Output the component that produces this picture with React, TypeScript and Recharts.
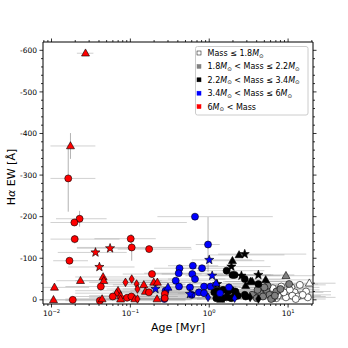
import React from 'react';
import { ScatterChart, Scatter, XAxis, YAxis, ErrorBar, Legend } from 'recharts';

// [age Myr, Hα EW, age low, age high, EW error, marker]
type Pt = [number, number, number, number, number, string];

const massLow: Pt[] = [
  [14.1, -36, 7.0, 30, 3, 'o'],
  [18.6, -40, 9.0, 40, 3, '^'],
  [11.0, -30, 5.5, 25, 3, 'o'],
  [12.1, -18, 6.0, 28, 2, 'o'],
  [16.9, -20, 8.0, 35, 2, 'o'],
  [7.8, -16, 3.5, 20, 2, 'o'],
  [9.4, -6, 4.5, 22, 2, 'o'],
  [13.3, -8, 6.5, 30, 2, 'o'],
  [17.8, -6, 9.0, 40, 2, 'o'],
  [7.1, -4, 3.2, 18, 2, 'o'],
  [8.2, -32, 4.0, 20, 2, 'o'],
  [6.4, -28, 3.0, 16, 2, 'o'],
  [10.5, -24, 5.0, 25, 2, 'o'],
  [11.3, -10, 5.5, 26, 2, 'o'],
  [12.5, -2, 6.0, 30, 2, 'o'],
  [15.3, -12, 7.5, 35, 2, 'o'],
  [8.8, -18, 4.2, 20, 2, 'o'],
  [7.4, -10, 3.5, 18, 2, 'o'],
];

const massMidLow: Pt[] = [
  [9.4, -58, 4.0, 22, 3, '^'],
  [10.3, -38, 5.0, 24, 3, 'o'],
  [5.3, -24, 2.5, 14, 2, 'o'],
  [4.4, -16, 2.0, 12, 2, 'o'],
  [3.5, -12, 1.6, 9, 2, 'o'],
  [5.8, -12, 2.8, 15, 2, 'o'],
  [4.8, -8, 2.2, 13, 2, 'o'],
  [4.0, -4, 1.8, 10, 2, 'o'],
  [6.4, -4, 3.0, 16, 2, 'o'],
  [7.1, -20, 3.3, 18, 2, 'o'],
  [5.5, -34, 2.6, 14, 2, 'o'],
  [5.0, -30, 2.4, 13, 2, 'o'],
  [6.1, -2, 2.9, 15, 2, 'o'],
  [4.1, -24, 1.9, 11, 2, 'o'],
  [6.8, -10, 3.2, 17, 2, 'o'],
  [8.0, -26, 3.8, 20, 2, 'o'],
];

const massMid: Pt[] = [
  [2.39, -108, 1.0, 9.0, 4, '^'],
  [2.82, -110, 1.3, 17, 4, '*'],
  [1.97, -94, 0.9, 5.0, 4, '^'],
  [1.91, -80, 0.8, 6.0, 4, '*'],
  [1.66, -70, 0.7, 5.0, 3, 'o'],
  [1.97, -60, 0.9, 6.0, 3, 'o'],
  [2.1, -60, 1.0, 6.5, 3, 'o'],
  [2.56, -58, 1.2, 8.0, 3, '*'],
  [4.2, -60, 2.0, 12, 3, '*'],
  [2.82, -50, 1.3, 9.0, 3, 'o'],
  [3.33, -44, 1.5, 10, 3, '^'],
  [3.5, -44, 1.6, 11, 3, '^'],
  [5.2, -48, 2.5, 20, 3, '^'],
  [4.2, -38, 2.0, 14, 3, 'o'],
  [2.9, -34, 1.3, 10, 3, '^'],
  [1.26, -38, 0.6, 4.0, 3, '*'],
  [1.26, -22, 0.6, 4.0, 2, 'o'],
  [1.5, -24, 0.7, 5.0, 2, 'o'],
  [1.72, -20, 0.8, 5.5, 2, 'o'],
  [1.9, -24, 0.9, 6.0, 2, 'o'],
  [2.15, -20, 1.0, 7.0, 2, 'o'],
  [2.3, -10, 1.1, 7.0, 2, 'o'],
  [2.82, -12, 1.3, 9.0, 2, 'o'],
  [1.35, -12, 0.6, 4.5, 2, 'o'],
  [1.23, -4, 0.6, 4.0, 2, 'o'],
  [1.47, -4, 0.7, 5.0, 2, 'o'],
  [1.66, -6, 0.8, 5.5, 2, 'o'],
  [1.9, -4, 0.9, 6.0, 2, 'o'],
  [2.1, -8, 1.0, 7.0, 2, 'o'],
  [2.9, -8, 1.4, 10, 2, 'o'],
  [3.3, -6, 1.5, 11, 2, 'd'],
  [1.4, -1, 0.7, 4.5, 2, '^'],
  [4.2, -2, 2.0, 14, 2, 'd'],
  [1.16, -18, 0.5, 3.5, 2, 'o'],
];

const massHigh: Pt[] = [
  [0.66, -200, 0.22, 6.4, 8, 'o'],
  [0.966, -133, 0.675, 1.36, 66, 'o'],
  [1.0, -96, 0.6, 3.5, 5, '*'],
  [1.09, -58, 0.5, 2.5, 4, '*'],
  [0.42, -76, 0.2, 1.0, 3, 'o'],
  [0.62, -82, 0.3, 1.3, 3, 'o'],
  [0.81, -76, 0.4, 1.8, 3, 'o'],
  [0.41, -64, 0.15, 1.5, 3, 'o'],
  [0.61, -62, 0.25, 1.5, 3, 'o'],
  [0.66, -50, 0.3, 1.6, 3, 'o'],
  [0.376, -46, 0.15, 1.2, 3, 'o'],
  [0.414, -32, 0.15, 1.2, 3, 'o'],
  [0.57, -30, 0.2, 2.0, 3, 'o'],
  [0.86, -32, 0.4, 2.2, 3, 'o'],
  [1.04, -32, 0.5, 2.5, 3, 'o'],
  [1.22, -40, 0.6, 3.0, 3, '^'],
  [0.28, -22, 0.1, 1.0, 2, 'o'],
  [0.3, -30, 0.12, 1.0, 2, '^'],
  [0.27, -2, 0.1, 0.8, 2, 'o'],
  [0.74, -18, 0.3, 2.0, 2, 'o'],
  [0.6, -12, 0.25, 1.5, 2, 'o'],
  [0.86, -16, 0.4, 2.0, 2, 'o'],
  [1.78, -30, 0.8, 4.0, 2, 'o'],
  [1.37, -16, 0.7, 3.0, 2, 'o'],
  [0.208, -26, 0.08, 0.8, 2, '*'],
  [0.57, -14, 0.25, 1.2, 2, '*'],
  [0.966, -6, 0.5, 2.0, 2, 'd'],
  [2.1, -4, 1.0, 5.0, 2, 'd'],
];

const massTop: Pt[] = [
  [0.027, -593, 0.021, 0.034, 5, '^'],
  [0.0174, -370, 0.0097, 0.036, 31, '^'],
  [0.0163, -292, 0.0097, 0.036, 80, 'o'],
  [0.0227, -195, 0.0114, 0.05, 19, 'o'],
  [0.0195, -186, 0.0097, 0.52, 8, 'o'],
  [0.0197, -146, 0.0097, 0.073, 10, 'o'],
  [0.101, -147, 0.035, 0.21, 10, 'o'],
  [0.104, -126, 0.021, 0.59, 32, 'o'],
  [0.173, -122, 0.069, 0.6, 5, 'o'],
  [0.0553, -124, 0.021, 0.176, 6, '*'],
  [0.0361, -114, 0.012, 0.09, 5, '*'],
  [0.0169, -94, 0.0105, 0.029, 4, 'o'],
  [0.0405, -79, 0.0162, 0.113, 5, '*'],
  [0.188, -62, 0.08, 0.8, 4, 'o'],
  [0.0451, -55, 0.02, 0.2, 4, '^'],
  [0.046, -46, 0.02, 0.25, 4, '^'],
  [0.0233, -46, 0.0115, 0.047, 4, '^'],
  [0.0867, -42, 0.03, 0.3, 5, 'd'],
  [0.0109, -30, 0.0078, 0.03, 3, '^'],
  [0.0422, -32, 0.015, 0.3, 4, 'o'],
  [0.0698, -22, 0.02, 0.4, 4, '^'],
  [0.0667, -16, 0.02, 0.5, 4, '^'],
  [0.0598, -8, 0.02, 0.4, 3, 'o'],
  [0.0752, -10, 0.03, 0.6, 3, '^'],
  [0.0106, 0, 0.0078, 0.02, 2, '^'],
  [0.0186, 0, 0.0097, 0.6, 2, 'o'],
  [0.041, 2, 0.015, 0.5, 2, 'o'],
  [0.0438, -2, 0.015, 0.3, 2, '^'],
  [0.0752, -1.5, 0.02, 0.5, 2, '^'],
  [0.0908, -5, 0.03, 0.8, 2, 'o'],
  [0.104, -50, 0.04, 0.4, 8, 'd'],
  [0.12, -38, 0.05, 0.5, 5, 'd'],
  [0.123, -26, 0.05, 0.7, 4, 'd'],
  [0.148, -36, 0.06, 0.5, 3, '^'],
  [0.198, -42, 0.08, 0.6, 3, '^'],
  [0.22, -42, 0.09, 0.8, 3, '^'],
  [0.155, -20, 0.06, 1.0, 3, '^'],
  [0.172, -18, 0.06, 0.8, 3, 'o'],
  [0.103, -8, 0.04, 0.6, 2, 'o'],
  [0.114, -2, 0.04, 0.5, 2, '^'],
  [0.123, -2, 0.05, 0.6, 2, 'd'],
  [0.218, -2, 0.08, 1.2, 2, '^'],
  [0.273, -14, 0.1, 1.0, 2, 'o'],
  [0.273, -4, 0.1, 0.9, 2, 'o'],
];

const ageTicks = [
  0.008, 0.009, 0.01, 0.02, 0.03, 0.04, 0.05, 0.06, 0.07, 0.08, 0.09,
  0.1, 0.2, 0.3, 0.4, 0.5, 0.6, 0.7, 0.8, 0.9,
  1, 2, 3, 4, 5, 6, 7, 8, 9, 10, 20,
];
const ageMajor = [0.01, 0.1, 1, 10];
const ageExp = ['\u22122', '\u22121', '0', '1'];

const ewTicks = [
  -600, -580, -560, -540, -520, -500, -480, -460, -440, -420, -400,
  -380, -360, -340, -320, -300, -280, -260, -240, -220, -200,
  -180, -160, -140, -120, -100, -80, -60, -40, -20, 0,
];

const groupColors = ['#ffffff', '#808080', '#000000', '#0000ff', '#ff0000'];
const legendLabels: [string, string][][] = [
  [['Mass \u2264 1.8', 'n'], ['M', 'i'], ['\u2299', 's']],
  [['1.8', 'n'], ['M', 'i'], ['\u2299', 's'], [' < Mass \u2264 2.2', 'n'], ['M', 'i'], ['\u2299', 's']],
  [['2.2', 'n'], ['M', 'i'], ['\u2299', 's'], [' < Mass \u2264 3.4', 'n'], ['M', 'i'], ['\u2299', 's']],
  [['3.4', 'n'], ['M', 'i'], ['\u2299', 's'], [' < Mass \u2264 6', 'n'], ['M', 'i'], ['\u2299', 's']],
  [['6', 'n'], ['M', 'i'], ['\u2299', 's'], [' < Mass', 'n']],
];

const FONT = '"DejaVu Sans", sans-serif';

const toRows = (pts: Pt[]) =>
  pts.map(([age, ew, lo, hi, err, m]) => ({
    age,
    ew,
    ageErr: [age - lo, hi - age],
    ewErr: [err, err],
    m,
  }));

const groups = [massLow, massMidLow, massMid, massHigh, massTop].map((pts, i) => ({
  color: groupColors[i],
  rows: toRows(pts),
}));

const NoMark = () => <g />;

function Marker(props: any) {
  const { cx, cy, payload, color } = props;
  if (cx == null || cy == null || isNaN(cx) || isNaN(cy)) return <g />;
  const common = { fill: color, stroke: '#000', strokeWidth: 0.6 };
  if (payload.m === '^') {
    return <polygon points={`${cx},${cy - 4.3} ${cx + 4},${cy + 2.8} ${cx - 4},${cy + 2.8}`} {...common} />;
  }
  if (payload.m === 'd') {
    return <polygon points={`${cx},${cy - 4.3} ${cx + 2.6},${cy} ${cx},${cy + 4.3} ${cx - 2.6},${cy}`} {...common} />;
  }
  if (payload.m === '*') {
    const pts: string[] = [];
    for (let k = 0; k < 10; k++) {
      const r = k % 2 === 0 ? 4.8 : 2.0;
      const a = -Math.PI / 2 + (k * Math.PI) / 5;
      pts.push(`${cx + r * Math.cos(a)},${cy + r * Math.sin(a)}`);
    }
    return <polygon points={pts.join(' ')} {...common} />;
  }
  return <circle cx={cx} cy={cy} r={3.5} {...common} />;
}

const majorIndex = (v: number) => ageMajor.findIndex((m) => Math.abs(m - v) < m * 1e-6);

function BottomTick(props: any) {
  const { x, y, payload } = props;
  const idx = majorIndex(payload.value);
  const len = idx >= 0 ? 3.5 : 2;
  return (
    <g>
      <line x1={x} y1={y} x2={x} y2={y + len} stroke="#000" strokeWidth={0.8} />
      {idx >= 0 && (
        <text x={x} y={y + 12} textAnchor="middle" fontSize={7.5} fontFamily={FONT} fill="#000">
          10<tspan dy={-3.5} fontSize={5.2}>{ageExp[idx]}</tspan>
        </text>
      )}
    </g>
  );
}

function TopTick(props: any) {
  const { x, y, payload } = props;
  const len = majorIndex(payload.value) >= 0 ? 3.5 : 2;
  return <line x1={x} y1={y} x2={x} y2={y - len} stroke="#000" strokeWidth={0.8} />;
}

function LeftTick(props: any) {
  const { x, y, payload } = props;
  const major = payload.value % 100 === 0;
  return (
    <g>
      <line x1={x} y1={y} x2={x - (major ? 3.5 : 2)} y2={y} stroke="#000" strokeWidth={0.8} />
      {major && (
        <text x={x - 6} y={y + 2.6} textAnchor="end" fontSize={7.5} fontFamily={FONT} fill="#000">
          {String(payload.value)}
        </text>
      )}
    </g>
  );
}

function RightTick(props: any) {
  const { x, y, payload } = props;
  const major = payload.value % 100 === 0;
  return <line x1={x} y1={y} x2={x + (major ? 3.5 : 2)} y2={y} stroke="#000" strokeWidth={0.8} />;
}

const XTitle = () => (
  <text x={178} y={331} textAnchor="middle" fontSize={11} fontFamily={FONT} fill="#000">
    Age [Myr]
  </text>
);

const YTitle = () => (
  <text
    x={15}
    y={177}
    transform="rotate(-90, 15, 177)"
    textAnchor="middle"
    fontSize={11}
    fontFamily={FONT}
    fill="#000"
  >
    H<tspan fontStyle="italic">α</tspan> EW [Å]
  </text>
);

function MassLegend() {
  return (
    <svg width={114} height={70} style={{ display: 'block' }}>
      <rect x={0.5} y={0.5} width={112.5} height={68.5} rx={2} fill="#fff" fillOpacity={0.8} stroke="#cccccc" />
      {legendLabels.map((parts, i) => {
        const cy = 7 + i * 13.4;
        return (
          <g key={i}>
            <rect x={2} y={cy - 2} width={4} height={4} fill={groupColors[i]} stroke={i === 0 ? '#000' : groupColors[i]} strokeWidth={0.5} />
            <text x={12.5} y={cy + 2.9} fontSize={8} fontFamily={FONT} fill="#000" style={{ whiteSpace: 'pre' }}>
              {parts.map(([t, k], j) => {
                if (k === 'i') return <tspan key={j} fontStyle="italic">{t}</tspan>;
                if (k === 's') return <tspan key={j} fontSize={5.5} dy={1.6}>{t}</tspan>;
                const prevSub = j > 0 && parts[j - 1][1] === 's';
                return <tspan key={j} dy={prevSub ? -1.6 : 0}>{t}</tspan>;
              })}
            </text>
          </g>
        );
      })}
    </svg>
  );
}

export default function App() {
  return (
    <div style={{ position: 'absolute', left: 0, top: 0, width: 348, height: 348, background: '#fff' }}>
      <ScatterChart width={348} height={348} margin={{ top: 41, right: 34, bottom: 0, left: 0 }}>
        <XAxis
          xAxisId="b"
          dataKey="age"
          type="number"
          scale="log"
          domain={[0.0078, 20.7]}
          allowDataOverflow
          ticks={ageTicks}
          interval={0}
          tickSize={0}
          tickMargin={0}
          tickLine={false}
          tick={BottomTick}
          height={44}
          axisLine={{ stroke: '#000', strokeWidth: 1 }}
          label={<XTitle />}
        />
        <XAxis
          xAxisId="t"
          orientation="top"
          dataKey="age"
          type="number"
          scale="log"
          domain={[0.0078, 20.7]}
          allowDataOverflow
          ticks={ageTicks}
          interval={0}
          tickSize={0}
          tickMargin={0}
          tickLine={false}
          tick={TopTick}
          height={1}
          axisLine={{ stroke: '#000', strokeWidth: 1 }}
        />
        <YAxis
          yAxisId="l"
          dataKey="ew"
          type="number"
          domain={[-620, 10]}
          reversed
          allowDataOverflow
          ticks={ewTicks}
          interval={0}
          tickSize={0}
          tickMargin={0}
          tickLine={false}
          tick={LeftTick}
          width={43}
          axisLine={{ stroke: '#000', strokeWidth: 1 }}
          label={<YTitle />}
        />
        <YAxis
          yAxisId="r"
          orientation="right"
          dataKey="ew"
          type="number"
          domain={[-620, 10]}
          reversed
          allowDataOverflow
          ticks={ewTicks}
          interval={0}
          tickSize={0}
          tickMargin={0}
          tickLine={false}
          tick={RightTick}
          width={1}
          axisLine={{ stroke: '#000', strokeWidth: 1 }}
        />
        {/* carrier for the top and right frame axes */}
        <Scatter
          xAxisId="t"
          yAxisId="r"
          data={groups[0].rows}
          shape={NoMark}
          isAnimationActive={false}
        />
        {groups.map((g, i) => (
          <Scatter
            key={'err' + i}
            xAxisId="b"
            yAxisId="l"
            data={g.rows}
            shape={NoMark}
            isAnimationActive={false}
          >
            <ErrorBar dataKey="ageErr" direction="x" width={0} stroke="#999999" strokeOpacity={0.45} strokeWidth={1} />
            <ErrorBar dataKey="ewErr" direction="y" width={0} stroke="#888888" strokeOpacity={0.8} strokeWidth={0.8} />
          </Scatter>
        ))}
        {groups.map((g, i) => (
          <Scatter
            key={'pts' + i}
            xAxisId="b"
            yAxisId="l"
            data={g.rows}
            shape={(p: any) => <Marker {...p} color={g.color} />}
            isAnimationActive={false}
          />
        ))}
        <Legend
          layout="horizontal"
          verticalAlign="middle"
          align="center"
          content={<MassLegend />}
          wrapperStyle={{ position: 'absolute', left: 195, top: 46, width: 114, height: 70 }}
        />
      </ScatterChart>
    </div>
  );
}
